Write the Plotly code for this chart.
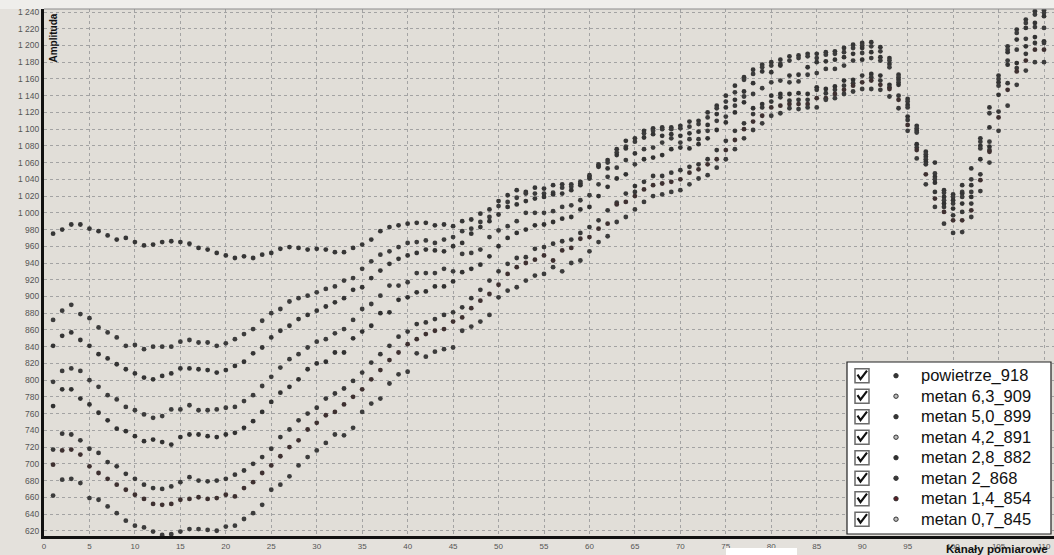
import plotly.graph_objects as go

channels = list(range(1, 111))

names = ["powietrze_918", "metan 6,3_909", "metan 5,0_899", "metan 4,2_891",
         "metan 2,8_882", "metan 2_868", "metan 1,4_854", "metan 0,7_845"]

powietrze_918 = [975, 980, 986, 986, 981, 978, 973, 968, 970, 965,
                 961, 962, 965, 966, 965, 963, 958, 956, 952, 949,
                 946, 948, 946, 950, 952, 957, 959, 958, 956, 957,
                 956, 953, 953, 958, 962, 968, 978, 983, 985, 987,
                 988, 988, 985, 986, 984, 990, 992, 999, 1004, 1014,
                 1021, 1027, 1025, 1030, 1029, 1033, 1034, 1034, 1037, 1045,
                 1058, 1063, 1076, 1086, 1089, 1098, 1101, 1102, 1102, 1104,
                 1109, 1110, 1120, 1128, 1140, 1152, 1162, 1171, 1177, 1180,
                 1183, 1187, 1188, 1190, 1190, 1192, 1193, 1197, 1201, 1203,
                 1204, 1198, 1185, 1165, 1136, 1104, 1073, 1060, 1027, 1022,
                 1033, 1053, 1089, 1126, 1164, 1199, 1219, 1231, 1241, 1242]

metan_63_909 = [872, 883, 890, 879, 874, 863, 857, 851, 841, 842,
                837, 840, 840, 840, 846, 848, 845, 845, 841, 844,
                849, 855, 861, 871, 880, 885, 894, 898, 901, 905,
                909, 912, 919, 922, 933, 942, 950, 954, 959, 964,
                965, 967, 964, 968, 971, 978, 981, 989, 995, 1008,
                1013, 1018, 1023, 1023, 1023, 1024, 1030, 1031, 1035, 1043,
                1056, 1060, 1072, 1079, 1085, 1095, 1098, 1100, 1100, 1101,
                1103, 1106, 1114, 1125, 1133, 1144, 1159, 1166, 1174, 1176,
                1178, 1182, 1185, 1187, 1185, 1189, 1190, 1192, 1197, 1200,
                1199, 1193, 1182, 1162, 1133, 1101, 1070, 1047, 1024, 1019,
                1025, 1040, 1085, 1119, 1160, 1195, 1215, 1227, 1237, 1239]

metan_50_899 = [841, 853, 857, 848, 841, 831, 826, 819, 813, 808,
                803, 801, 805, 808, 814, 814, 813, 812, 809, 812,
                817, 822, 832, 839, 851, 859, 865, 873, 878, 883,
                888, 893, 898, 908, 911, 922, 931, 939, 945, 949,
                952, 956, 955, 954, 960, 964, 975, 983, 990, 998,
                1007, 1010, 1014, 1017, 1019, 1022, 1023, 1027, 1033, 1041,
                1055, 1053, 1069, 1077, 1071, 1090, 1094, 1092, 1094, 1092,
                1095, 1097, 1105, 1118, 1126, 1135, 1145, 1155, 1169, 1168,
                1176, 1164, 1165, 1174, 1180, 1181, 1183, 1186, 1190, 1197,
                1192, 1186, 1178, 1159, 1129, 1098, 1067, 1043, 1019, 1015,
                1023, 1033, 1080, 1102, 1156, 1192, 1207, 1221, 1227, 1235]

metan_42_891 = [798, 811, 814, 811, 800, 792, 782, 777, 768, 764,
                759, 755, 757, 765, 765, 770, 764, 764, 765, 767,
                768, 775, 782, 793, 804, 815, 825, 831, 839, 846,
                849, 856, 861, 872, 885, 891, 901, 913, 913, 917,
                928, 928, 928, 933, 930, 951, 952, 956, 971, 979,
                984, 990, 1000, 1000, 1000, 1002, 1007, 1009, 1015, 1021,
                1034, 1043, 1054, 1063, 1058, 1076, 1078, 1084, 1089, 1084,
                1088, 1088, 1098, 1110, 1115, 1128, 1139, 1142, 1149, 1156,
                1158, 1156, 1157, 1165, 1167, 1172, 1172, 1176, 1182, 1191,
                1185, 1182, 1174, 1156, 1126, 1096, 1064, 1040, 1015, 1011,
                1019, 1025, 1077, 1085, 1152, 1182, 1195, 1208, 1222, 1221]

metan_28_882 = [769, 789, 789, 778, 771, 761, 752, 742, 739, 733,
                727, 729, 726, 723, 732, 735, 735, 733, 732, 735,
                737, 743, 751, 762, 774, 785, 792, 801, 813, 820,
                822, 833, 833, 850, 858, 865, 880, 881, 896, 899,
                905, 906, 912, 912, 918, 929, 933, 938, 948, 960,
                970, 976, 980, 985, 986, 989, 993, 995, 1004, 1007,
                1020, 1031, 1041, 1046, 1032, 1064, 1066, 1069, 1076, 1078,
                1077, 1082, 1089, 1099, 1108, 1120, 1132, 1125, 1130, 1140,
                1142, 1142, 1143, 1142, 1150, 1148, 1151, 1158, 1159, 1183,
                1166, 1164, 1153, 1153, 1115, 1082, 1061, 1036, 1011, 1005,
                1011, 1019, 1064, 1079, 1141, 1177, 1179, 1199, 1210, 1205]

metan_2_868 = [717, 736, 735, 728, 718, 713, 702, 697, 688, 682,
               675, 671, 670, 673, 678, 684, 680, 679, 680, 682,
               687, 692, 700, 708, 718, 732, 741, 752, 760, 767,
               778, 784, 790, 799, 809, 821, 831, 841, 852, 858,
               867, 869, 873, 878, 881, 887, 898, 908, 919, 930,
               939, 946, 947, 957, 959, 963, 966, 968, 976, 983,
               991, 1003, 1012, 1023, 1025, 1037, 1044, 1044, 1048, 1051,
               1055, 1058, 1064, 1075, 1086, 1098, 1107, 1118, 1126, 1133,
               1138, 1134, 1135, 1135, 1147, 1143, 1147, 1152, 1155, 1164,
               1162, 1158, 1150, 1140, 1111, 1078, 1058, 1025, 1007, 997,
               1001, 1011, 1046, 1075, 1121, 1155, 1173, 1190, 1203, 1203]

metan_14_854 = [699, 716, 717, 711, 697, 689, 682, 675, 669, 663,
                658, 652, 651, 652, 657, 658, 660, 658, 659, 663,
                661, 671, 678, 689, 698, 709, 720, 728, 741, 749,
                758, 762, 771, 780, 789, 801, 812, 824, 833, 843,
                849, 855, 859, 861, 870, 875, 886, 895, 903, 914,
                927, 935, 940, 944, 949, 943, 955, 958, 969, 971,
                981, 987, 1010, 1013, 1020, 1028, 1033, 1035, 1037, 1040,
                1048, 1052, 1058, 1064, 1075, 1087, 1100, 1109, 1116, 1126,
                1128, 1130, 1130, 1130, 1137, 1137, 1142, 1147, 1152, 1156,
                1158, 1153, 1148, 1135, 1105, 1075, 1046, 1017, 1001, 991,
                991, 1003, 1039, 1073, 1114, 1147, 1169, 1182, 1195, 1195]

metan_07_845 = [662, 681, 682, 677, 659, 657, 649, 641, 632, 626,
                624, 619, 615, 616, 619, 622, 622, 621, 620, 625,
                626, 634, 641, 651, 669, 675, 685, 698, 708, 716,
                725, 735, 734, 743, 762, 772, 778, 796, 807, 810,
                832, 828, 834, 837, 839, 859, 864, 870, 878, 899,
                907, 911, 919, 925, 927, 935, 930, 940, 943, 954,
                965, 972, 989, 995, 1004, 1013, 1020, 1022, 1025, 1027,
                1034, 1041, 1045, 1054, 1064, 1076, 1089, 1099, 1107, 1116,
                1119, 1125, 1124, 1126, 1126, 1135, 1137, 1142, 1145, 1148,
                1148, 1147, 1139, 1125, 1098, 1065, 1034, 1007, 987, 976,
                977, 995, 1026, 1060, 1098, 1128, 1153, 1170, 1180, 1180]

series = [powietrze_918, metan_63_909, metan_50_899, metan_42_891,
          metan_28_882, metan_2_868, metan_14_854, metan_07_845]

y_ticks = list(range(620, 1241, 20))
x_ticks = list(range(0, 111, 5))

# styles
dot_colors = ["#363636", "#3c3c3c", "#343434", "#3c3c3c",
              "#313131", "#383838", "#3e3030", "#3c3c3c"]
legend_fill = ["#353535", "#bdbdbd", "#353535", "#bdbdbd",
               "#303030", "#383838", "#5a1c24", "#bdbdbd"]

W, H = 1054, 555
ML, MR, MT, MB = 44, 0, 9, 19
PW, PH = W - ML - MR, H - MT - MB


def fx(px):
    return (px - ML) / PW


def fy(py):
    return (H - MB - py) / PH


fig = go.Figure()
for name, vals, col in zip(names, series, dot_colors):
    fig.add_trace(go.Scatter(
        x=channels, y=vals, mode="markers", name=name,
        marker=dict(size=4.8, color=col, line=dict(width=0)),
        showlegend=False, cliponaxis=True))

shapes = []
annotations = []

# light strip above the plot
shapes.append(dict(type="rect", xref="paper", yref="paper",
                   x0=fx(0), x1=fx(W), y0=fy(MT), y1=fy(0),
                   fillcolor="#efeeeb", line=dict(width=0), layer="below"))
# top border of plot
shapes.append(dict(type="line", xref="paper", yref="paper",
                   x0=0, x1=1, y0=1, y1=1,
                   line=dict(color="#8a8a8a", width=1)))

# custom legend
lx0, lx1, ly0, ly1 = 847, 1051, 362, 534
shapes.append(dict(type="rect", xref="paper", yref="paper",
                   x0=fx(lx0), x1=fx(lx1), y0=fy(ly1), y1=fy(ly0),
                   fillcolor="white", line=dict(color="#222222", width=1.2)))
for i, name in enumerate(names):
    cy = 375.7 + i * 20.5
    shapes.append(dict(type="rect", xref="paper", yref="paper",
                       x0=fx(855), x1=fx(869), y0=fy(cy + 7), y1=fy(cy - 7),
                       fillcolor="white", line=dict(color="#6a6a6a", width=1.5)))
    path = "M {:.5f} {:.5f} L {:.5f} {:.5f} L {:.5f} {:.5f}".format(
        fx(857.5), fy(cy - 1), fx(860.5), fy(cy + 3.5), fx(867), fy(cy - 5))
    shapes.append(dict(type="path", xref="paper", yref="paper", path=path,
                       line=dict(color="#111111", width=2.2)))
    shapes.append(dict(type="circle", xref="paper", yref="paper",
                       x0=fx(893.8), x1=fx(898.2), y0=fy(cy + 2.2), y1=fy(cy - 2.2),
                       fillcolor=legend_fill[i], line=dict(color="#333333", width=1)))
    annotations.append(dict(text=name, xref="paper", yref="paper",
                            x=fx(919), y=fy(cy), xanchor="left", yanchor="middle",
                            showarrow=False,
                            font=dict(family="Arial, Liberation Sans", size=16.5, color="#111111")))

# white artifact rectangle at bottom
shapes.append(dict(type="rect", xref="paper", yref="paper",
                   x0=fx(726), x1=fx(797), y0=fy(555), y1=fy(548),
                   fillcolor="white", line=dict(width=0)))

# axis titles
annotations.append(dict(text="<b>Amplituda</b>", xref="paper", yref="paper",
                        x=fx(53), y=fy(12), xanchor="center", yanchor="top",
                        textangle=-90, showarrow=False,
                        font=dict(family="Arial, Liberation Sans", size=10, color="#111111")))
annotations.append(dict(text="<b>Kanały pomiarowe</b>", xref="paper", yref="paper",
                        x=fx(1050), y=fy(548.5), xanchor="right", yanchor="middle",
                        showarrow=False,
                        font=dict(family="Arial, Liberation Sans", size=11.5, color="#111111")))

fig.update_layout(
    width=W, height=H, autosize=False,
    margin=dict(l=ML, r=MR, t=MT, b=MB, pad=0),
    paper_bgcolor="#e4e1dc", plot_bgcolor="#e1ded8",
    separators=", ",
    shapes=shapes, annotations=annotations,
    showlegend=False,
    font=dict(family="Arial, Liberation Sans"),
)
fig.update_xaxes(range=[0, 111.1], tickvals=x_ticks, showgrid=True,
                 gridcolor="#a3a3a3", griddash="dot", gridwidth=1,
                 zeroline=False, showline=True, linecolor="#111111", linewidth=3,
                 ticks="", tickfont=dict(size=8, color="#555555"))
fig.update_yaxes(range=[613.7, 1243.6], tickvals=y_ticks, showgrid=True,
                 gridcolor="#a3a3a3", griddash="dot", gridwidth=1,
                 zeroline=False, showline=True, linecolor="#111111", linewidth=3,
                 ticks="", tickfont=dict(size=8.5, color="#555555"),
                 tickformat=",d")

fig.write_html(
    "out.html",
    config={"displayModeBar": False},
    post_script="document.body.style.margin='0';document.body.style.padding='0';"
                "document.body.style.overflow='hidden';",
)
